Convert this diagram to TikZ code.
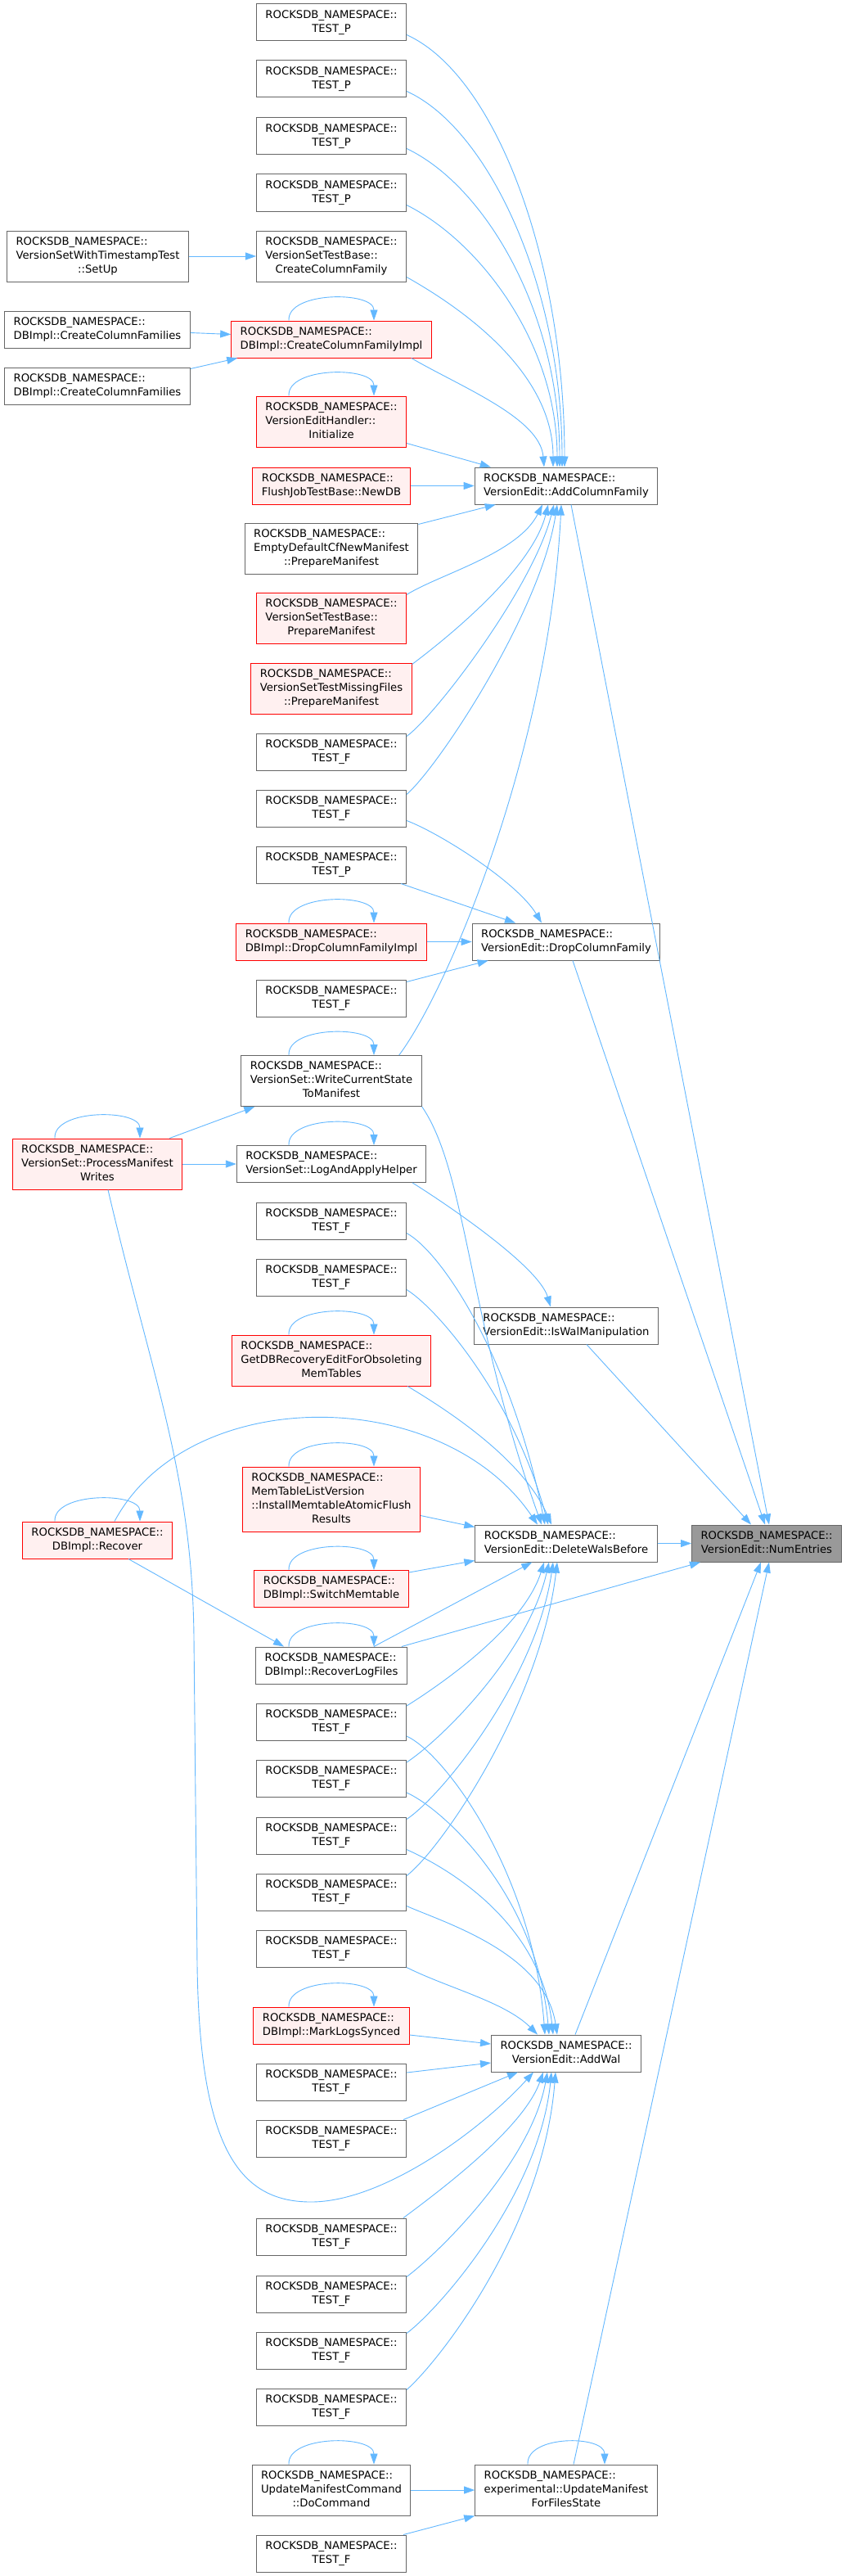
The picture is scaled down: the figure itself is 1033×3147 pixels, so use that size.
\documentclass[tikz,border=0pt]{standalone}
\usepackage{fontspec}
\setmainfont{DejaVu Sans}
\usetikzlibrary{arrows.meta}
\definecolor{edgeblue}{HTML}{63B8FF}
\definecolor{boxgray}{HTML}{666666}
\definecolor{redfill}{HTML}{FFF0F0}
\definecolor{rootfill}{HTML}{999999}
\newcommand{\fnfont}{\fontsize{13.2}{17}\selectfont}
\newcommand{\fnlabel}[2]{\begin{tabular}{@{}l@{}}#1\\\multicolumn{1}{@{}c@{}}{#2}\end{tabular}}
\newcommand{\rns}{ROCKSDB\_NAMESPACE::}
\tikzset{
  fn/.style={draw=boxgray, fill=white, line width=1pt, inner xsep=11pt, inner ysep=5.5pt, font=\fnfont},
  fnred/.style={fn, draw=red, fill=redfill},
  fnroot/.style={fn, fill=rootfill},
  call/.style={draw=edgeblue, line width=0.9pt, -{Triangle[length=13pt,width=9pt]}},
}

\begin{document}
\begin{tikzpicture}[x=1pt,y=-1pt]
  \fill[white] (0,0) rectangle (1033,3147);
  % ── Left column ──
  \node[fn] (setup) at (119.5,313) {\fnlabel{\rns\\VersionSetWithTimestampTest}{::SetUp}};
  \node[fn] (ccfs1) at (119,402.5) {\fnlabel{\rns}{DBImpl::CreateColumnFamilies}};
  \node[fn] (ccfs2) at (119,471.5) {\fnlabel{\rns}{DBImpl::CreateColumnFamilies}};
  \node[fnred] (pmw) at (119,1422) {\fnlabel{\rns\\VersionSet::ProcessManifest}{Writes}};
  \node[fnred] (recover) at (119,1881.5) {\fnlabel{\rns}{DBImpl::Recover}};
  %
  % ── Middle column ──
  \node[fn] (tp1) at (405,27.5) {\fnlabel{\rns}{TEST\_P}};
  \node[fn] (tp2) at (405,96.5) {\fnlabel{\rns}{TEST\_P}};
  \node[fn] (tp3) at (405,166.5) {\fnlabel{\rns}{TEST\_P}};
  \node[fn] (tp4) at (405,235.5) {\fnlabel{\rns}{TEST\_P}};
  \node[fn] (createcf) at (405,313) {\fnlabel{\rns\\VersionSetTestBase::}{CreateColumnFamily}};
  \node[fnred] (ccfimpl) at (405,414.5) {\fnlabel{\rns}{DBImpl::CreateColumnFamilyImpl}};
  \node[fnred] (init) at (405,515) {\fnlabel{\rns\\VersionEditHandler::}{Initialize}};
  \node[fnred] (newdb) at (405,593.5) {\fnlabel{\rns}{FlushJobTestBase::NewDB}};
  \node[fn] (empty) at (405,670) {\fnlabel{\rns\\EmptyDefaultCfNewManifest}{::PrepareManifest}};
  \node[fnred] (prepman) at (405,755) {\fnlabel{\rns\\VersionSetTestBase::}{PrepareManifest}};
  \node[fnred] (missing) at (405,841) {\fnlabel{\rns\\VersionSetTestMissingFiles}{::PrepareManifest}};
  \node[fn] (tfa) at (405,918.5) {\fnlabel{\rns}{TEST\_F}};
  \node[fn] (tfb) at (405,987.5) {\fnlabel{\rns}{TEST\_F}};
  \node[fn] (tp5) at (405,1056.5) {\fnlabel{\rns}{TEST\_P}};
  \node[fnred] (dropimpl) at (405,1150.5) {\fnlabel{\rns}{DBImpl::DropColumnFamilyImpl}};
  \node[fn] (tfc) at (405,1219.5) {\fnlabel{\rns}{TEST\_F}};
  \node[fn] (wcs) at (405,1320.5) {\fnlabel{\rns\\VersionSet::WriteCurrentState}{ToManifest}};
  \node[fn] (laah) at (405,1422) {\fnlabel{\rns}{VersionSet::LogAndApplyHelper}};
  \node[fn] (tfd) at (405,1491.5) {\fnlabel{\rns}{TEST\_F}};
  \node[fn] (tfe) at (405,1560.5) {\fnlabel{\rns}{TEST\_F}};
  \node[fnred] (getdb) at (405,1662) {\fnlabel{\rns\\GetDBRecoveryEditForObsoleting}{MemTables}};
  \node[fnred] (memtable) at (405,1831.5) {\fnlabel{\rns\\MemTableListVersion\\::InstallMemtableAtomicFlush}{Results}};
  \node[fnred] (switchmt) at (405,1941) {\fnlabel{\rns}{DBImpl::SwitchMemtable}};
  \node[fn] (rlf) at (405,2034.5) {\fnlabel{\rns}{DBImpl::RecoverLogFiles}};
  \node[fn] (tff) at (405,2104) {\fnlabel{\rns}{TEST\_F}};
  \node[fn] (tfg) at (405,2173) {\fnlabel{\rns}{TEST\_F}};
  \node[fn] (tfh) at (405,2242.5) {\fnlabel{\rns}{TEST\_F}};
  \node[fn] (tfi) at (405,2311.5) {\fnlabel{\rns}{TEST\_F}};
  \node[fn] (tfj) at (405,2380.5) {\fnlabel{\rns}{TEST\_F}};
  \node[fnred] (mls) at (405,2474.5) {\fnlabel{\rns}{DBImpl::MarkLogsSynced}};
  \node[fn] (tfk) at (405,2543.5) {\fnlabel{\rns}{TEST\_F}};
  \node[fn] (tfl) at (405,2612.5) {\fnlabel{\rns}{TEST\_F}};
  \node[fn] (tfm) at (405,2732.5) {\fnlabel{\rns}{TEST\_F}};
  \node[fn] (tfn) at (405,2802.5) {\fnlabel{\rns}{TEST\_F}};
  \node[fn] (tfo) at (405,2871.5) {\fnlabel{\rns}{TEST\_F}};
  \node[fn] (tfp) at (405,2940.5) {\fnlabel{\rns}{TEST\_F}};
  \node[fn] (docmd) at (405,3042) {\fnlabel{\rns\\UpdateManifestCommand}{::DoCommand}};
  \node[fn] (tfq) at (405,3119.5) {\fnlabel{\rns}{TEST\_F}};
  %
  % ── Callees ──
  \node[fn] (acf) at (692,593.5) {\fnlabel{\rns}{VersionEdit::AddColumnFamily}};
  \node[fn] (dcf) at (692,1150.5) {\fnlabel{\rns}{VersionEdit::DropColumnFamily}};
  \node[fn] (iswal) at (692,1619.5) {\fnlabel{\rns}{VersionEdit::IsWalManipulation}};
  \node[fn] (dwb) at (692,1885.5) {\fnlabel{\rns}{VersionEdit::DeleteWalsBefore}};
  \node[fn] (addwal) at (692,2508.5) {\fnlabel{\rns}{VersionEdit::AddWal}};
  \node[fn] (umffs) at (692,3042) {\fnlabel{\rns\\experimental::UpdateManifest}{ForFilesState}};
  \node[fnroot] (num) at (937,1885.5) {\fnlabel{\rns}{VersionEdit::NumEntries}};
  %
  % ── Self calls ──
  \foreach \n in {ccfimpl,init,dropimpl,wcs,pmw,laah,getdb,memtable,recover,switchmt,rlf,mls,docmd}
    \draw[call] ([xshift=-52pt]\n.north) .. controls +(-2,-36) and +(0,-36) .. ([xshift=52pt]\n.north);
  \draw[call] ([xshift=-47pt]umffs.north) .. controls +(-2,-36) and +(0,-36) .. ([xshift=47pt]umffs.north);
  %
  % ── Calls into AddColumnFamily ──
  \draw[call] ([yshift=8pt]tp1.south east) .. controls +(110,50) and +(0,-250) .. ([xshift=-2pt]acf.north);
  \draw[call] ([yshift=8pt]tp2.south east) .. controls +(100,45) and +(0,-220) .. ([xshift=-5pt]acf.north);
  \draw[call] ([yshift=8pt]tp3.south east) .. controls +(95,45) and +(0,-190) .. ([xshift=-8pt]acf.north);
  \draw[call] ([yshift=8pt]tp4.south east) .. controls +(90,45) and +(0,-150) .. ([xshift=-11pt]acf.north);
  \draw[call] ([yshift=6pt]createcf.south east) .. controls +(80,45) and +(0,-110) .. ([xshift=-16pt]acf.north);
  \draw[call] ([xshift=-25pt]ccfimpl.south east) .. controls +(60,35) and +(-5,-60) .. ([xshift=-27pt]acf.north);
  \draw[call] ([yshift=5pt]init.south east) -- ([xshift=20pt]acf.north west);
  \draw[call] (newdb.east) -- (acf.west);
  \draw[call] ([yshift=-2pt]empty.north east) -- ([xshift=26pt]acf.south west);
  \draw[call] ([yshift=-3pt]prepman.north east) .. controls +(40,-25) and +(-30,60) .. ([xshift=-29pt]acf.south);
  \draw[call] ([yshift=-2pt]missing.north east) .. controls +(40,-30) and +(-20,80) .. ([xshift=-22pt]acf.south);
  \draw[call] ([yshift=-4pt]tfa.north east) .. controls +(35,-25) and +(-25,100) .. ([xshift=-15pt]acf.south);
  \draw[call] ([yshift=-6pt]tfb.north east) .. controls +(40,-35) and +(-20,130) .. ([xshift=-11pt]acf.south);
  \draw[call] ([xshift=-28pt]wcs.north east) .. controls +(60,-80) and +(-15,300) .. ([xshift=-6pt]acf.south);
  \draw[call] (setup.east) -- (createcf.west);
  \draw[call] ([yshift=-4pt]ccfs1.east) -- ([yshift=6pt]ccfimpl.west);
  \draw[call] ([yshift=-2pt]ccfs2.north east) -- ([xshift=8pt]ccfimpl.south west);
  %
  % ── Calls into DropColumnFamily ──
  \draw[call] ([xshift=-7pt]tp5.south east) -- ([xshift=-62pt]dcf.north);
  \draw[call] ([yshift=8pt]tfb.south east) .. controls +(40,15) and +(-30,-50) .. ([xshift=-30pt]dcf.north);
  \draw[call] (dropimpl.east) -- (dcf.west);
  \draw[call] ([yshift=-3pt]tfc.north east) -- ([xshift=20pt]dcf.south west);
  %
  % ── ProcessManifestWrites and LogAndApplyHelper ──
  \draw[call] ([xshift=-16pt]pmw.north east) -- ([xshift=17pt]wcs.south west);
  \draw[call] (pmw.east) -- (laah.west);
  \draw[call] ([xshift=-17pt]laah.south east) .. controls +(40,25) and +(-15,-50) .. ([xshift=-19pt]iswal.north);
  \draw[call] ([xshift=13pt]pmw.south) .. controls (185,1680) and (235,1800) .. (237,2000) -- (241,2400)
    .. controls (244,2620) and (290,2690) .. (380,2690)
    .. controls (470,2690) and (590,2600) .. ([xshift=-40pt]addwal.south);
  %
  % ── Calls into DeleteWalsBefore ──
  \draw[call] (wcs.south east) .. controls +(55,80) and +(-90,-250) .. ([xshift=-30pt]dwb.north);
  \draw[call] ([yshift=8pt]tfd.south east) .. controls +(45,25) and +(-40,-200) .. ([xshift=-26pt]dwb.north);
  \draw[call] ([yshift=8pt]tfe.south east) .. controls +(40,25) and +(-40,-150) .. ([xshift=-22pt]dwb.north);
  \draw[call] ([xshift=-29pt]getdb.south east) .. controls +(50,30) and +(-35,-80) .. ([xshift=-18pt]dwb.north);
  \draw[call] ([xshift=21pt]recover.north) .. controls (230,1690) and (540,1690) .. ([xshift=-35pt]dwb.north);
  \draw[call] ([yshift=-20pt]memtable.east) -- ([yshift=-3pt]dwb.north west);
  \draw[call] ([yshift=-3pt]switchmt.north east) -- ([yshift=2pt]dwb.south west);
  \draw[call] ([xshift=52pt]rlf.north) -- ([xshift=70pt]dwb.south west);
  \draw[call] ([yshift=-3pt]tff.north east) .. controls +(40,-25) and +(-25,80) .. ([xshift=-27pt]dwb.south);
  \draw[call] ([yshift=-3pt]tfg.north east) .. controls +(45,-30) and +(-25,110) .. ([xshift=-21pt]dwb.south);
  \draw[call] ([yshift=-3pt]tfh.north east) .. controls +(45,-30) and +(-20,140) .. ([xshift=-16pt]dwb.south);
  \draw[call] ([yshift=-3pt]tfi.north east) .. controls +(45,-35) and +(-20,170) .. ([xshift=-11pt]dwb.south);
  \draw[call] ([xshift=38pt]recover.south) -- ([xshift=-58pt]rlf.north);
  %
  % ── Calls into AddWal ──
  \draw[call] ([yshift=6pt]tff.south east) .. controls +(45,20) and +(-15,-200) .. ([xshift=-26pt]addwal.north);
  \draw[call] ([yshift=6pt]tfg.south east) .. controls +(45,20) and +(-15,-170) .. ([xshift=-21pt]addwal.north);
  \draw[call] ([yshift=6pt]tfh.south east) .. controls +(45,20) and +(-15,-140) .. ([xshift=-16pt]addwal.north);
  \draw[call] ([yshift=6pt]tfi.south east) .. controls +(45,20) and +(-15,-100) .. ([xshift=-11pt]addwal.north);
  \draw[call] (tfj.south east) .. controls +(50,25) and +(-40,-40) .. ([xshift=-35pt]addwal.north);
  \draw[call] ([yshift=-11.5pt]mls.east) -- ([yshift=11.5pt]addwal.west);
  \draw[call] ([yshift=11.5pt]tfk.east) -- ([yshift=-11.5pt]addwal.west);
  \draw[call] ([xshift=-4pt]tfl.north east) -- ([xshift=33pt]addwal.south west);
  \draw[call] ([xshift=-4pt]tfm.north east) .. controls +(40,-30) and +(-25,70) .. ([xshift=-28pt]addwal.south);
  \draw[call] ([yshift=-2pt]tfn.north east) .. controls +(40,-30) and +(-20,110) .. ([xshift=-23pt]addwal.south);
  \draw[call] ([yshift=-2pt]tfo.north east) .. controls +(40,-30) and +(-15,150) .. ([xshift=-18pt]addwal.south);
  \draw[call] ([yshift=-2pt]tfp.north east) .. controls +(40,-35) and +(-15,190) .. ([xshift=-13pt]addwal.south);
  %
  % ── UpdateManifestForFilesState ──
  \draw[call] (docmd.east) -- (umffs.west);
  \draw[call] ([xshift=-4pt]tfq.north east) -- (umffs.south west);
  %
  % ── Calls into NumEntries ──
  \draw[call] ([xshift=6pt]acf.south) -- ([xshift=3pt]num.north);
  \draw[call] ([xshift=8pt]dcf.south) -- ([xshift=-2pt]num.north);
  \draw[call] ([xshift=25pt]iswal.south) -- ([xshift=-19pt]num.north);
  \draw[call] (dwb.east) -- (num.west);
  \draw[call] ([xshift=-7pt]rlf.north east) -- ([xshift=11pt]num.south west);
  \draw[call] ([xshift=11pt]addwal.north) -- ([xshift=-7pt]num.south);
  \draw[call] ([xshift=9pt]umffs.north) -- ([xshift=3pt]num.south);
\end{tikzpicture}
\end{document}
